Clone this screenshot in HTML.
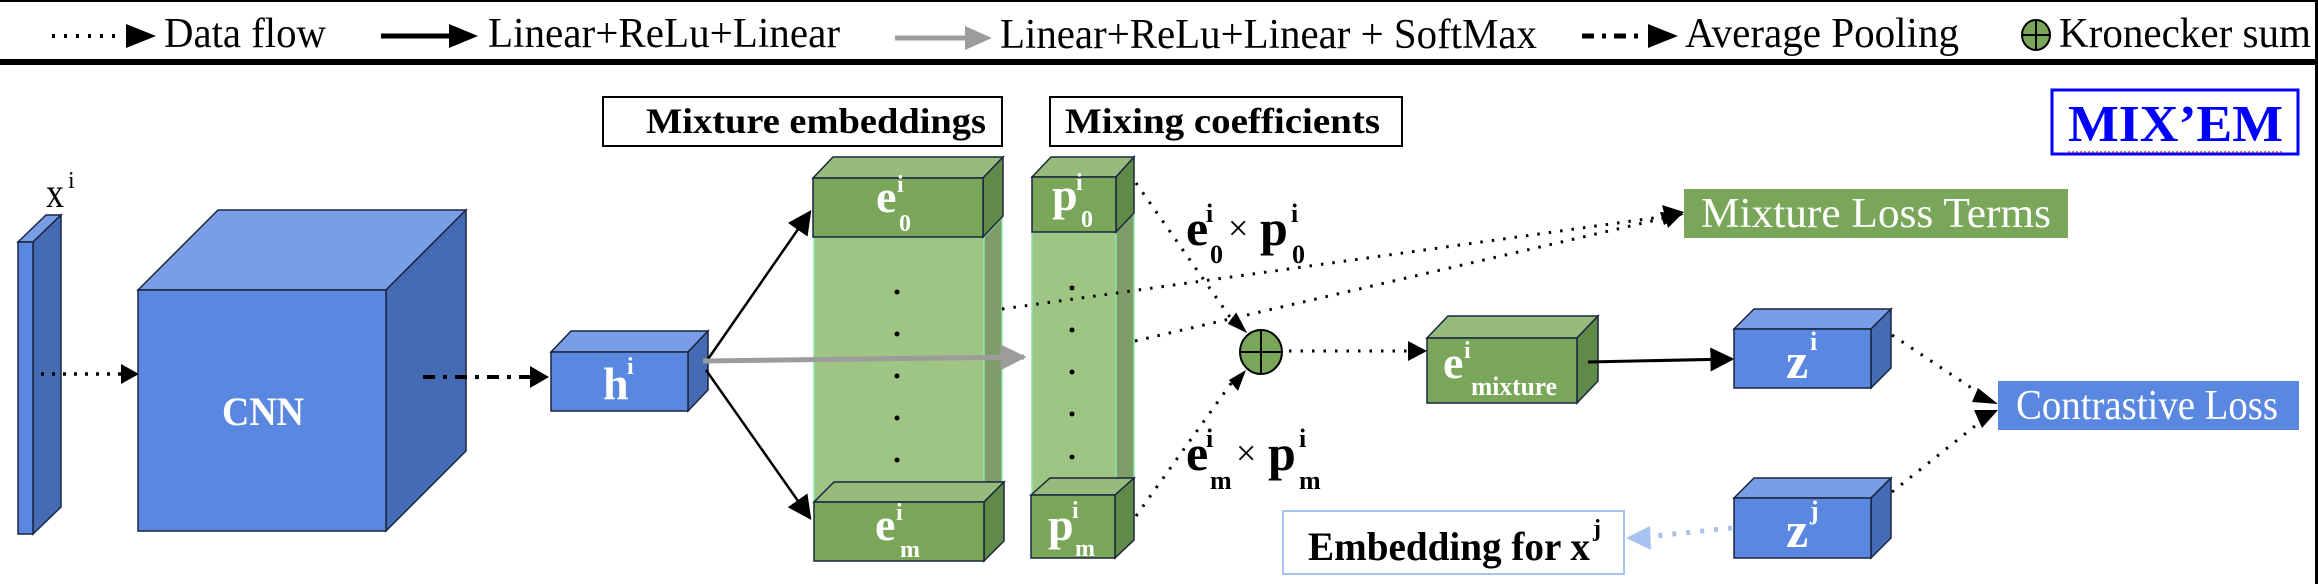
<!DOCTYPE html>
<html><head><meta charset="utf-8"><style>
html,body{margin:0;padding:0;background:#fff;}
svg{display:block;}
svg text{font-family:"Liberation Serif","DejaVu Serif",serif;}
</style></head><body>
<svg width="2318" height="584" viewBox="0 0 2318 584" xmlns="http://www.w3.org/2000/svg" font-family="Liberation Serif, DejaVu Serif, serif">
<defs>
<marker id="abL" viewBox="0 0 10 10" refX="9" refY="5" markerWidth="24" markerHeight="24" markerUnits="userSpaceOnUse" orient="auto"><path d="M0,0 L10,5 L0,10 z" fill="#000"/></marker>
<marker id="agL" viewBox="0 0 10 10" refX="9" refY="5" markerWidth="26" markerHeight="26" markerUnits="userSpaceOnUse" orient="auto"><path d="M0,0 L10,5 L0,10 z" fill="#9c9c9c"/></marker>
</defs>

<!-- frame -->
<rect x="0" y="0" width="2318" height="2" fill="#000"/>
<rect x="0" y="59" width="2318" height="6" fill="#000"/>
<rect x="2315" y="0" width="3" height="584" fill="#000"/>

<!-- legend -->
<line x1="52" y1="36" x2="118" y2="36" stroke="#000" stroke-width="4" stroke-dasharray="3,9"/>
<path d="M126,24 L156,36 L126,48 z" fill="#000"/>
<text x="164" y="47" font-size="42" textLength="162" lengthAdjust="spacingAndGlyphs">Data flow</text>
<line x1="381" y1="36" x2="452" y2="36" stroke="#000" stroke-width="5"/>
<path d="M449,24 L478,36 L449,48 z" fill="#000"/>
<text x="488" y="47" font-size="42" textLength="352" lengthAdjust="spacingAndGlyphs">Linear+ReLu+Linear</text>
<line x1="895" y1="38" x2="968" y2="38" stroke="#9c9c9c" stroke-width="5"/>
<path d="M965,26 L992,38 L965,50 z" fill="#9c9c9c"/>
<text x="1000" y="48" font-size="42" textLength="537" lengthAdjust="spacingAndGlyphs">Linear+ReLu+Linear + SoftMax</text>
<line x1="1582" y1="36" x2="1640" y2="36" stroke="#000" stroke-width="5" stroke-dasharray="12,8,4,8"/>
<path d="M1648,24 L1678,36 L1648,48 z" fill="#000"/>
<text x="1685" y="47" font-size="42" textLength="274" lengthAdjust="spacingAndGlyphs">Average Pooling</text>
<ellipse cx="2036" cy="35" rx="14" ry="15" fill="#7aa65a" stroke="#000" stroke-width="2"/>
<line x1="2022" y1="35" x2="2050" y2="35" stroke="#000" stroke-width="2"/>
<line x1="2036" y1="20" x2="2036" y2="50" stroke="#000" stroke-width="2"/>
<text x="2059" y="47" font-size="42" textLength="252" lengthAdjust="spacingAndGlyphs">Kronecker sum</text>

<!-- MIX'EM -->
<rect x="2052" y="90" width="246" height="64" fill="#fff" stroke="#0000ff" stroke-width="3"/>
<text x="2068" y="141" font-size="52" font-weight="bold" fill="#0000ff" textLength="215" lengthAdjust="spacingAndGlyphs">MIX’EM</text>
<line x1="2068" y1="152" x2="2282" y2="152" stroke="#e04040" stroke-width="1.5" stroke-dasharray="2,2"/>

<!-- header boxes -->
<rect x="603" y="97" width="399" height="49" fill="#fff" stroke="#000" stroke-width="2"/>
<text x="646" y="133" font-size="36" font-weight="bold" textLength="340" lengthAdjust="spacingAndGlyphs">Mixture embeddings</text>
<rect x="1050" y="97" width="352" height="49" fill="#fff" stroke="#000" stroke-width="2"/>
<text x="1065" y="133" font-size="36" font-weight="bold" textLength="315" lengthAdjust="spacingAndGlyphs">Mixing coefficients</text>

<!-- input slab -->
<g stroke="#1a2540" stroke-width="1.5">
<polygon points="18,242 46,215 61,215 33,242" fill="#7a9ee5"/>
<polygon points="33,242 61,215 61,507 33,534" fill="#456bb5"/>
<rect x="18" y="242" width="15" height="292" fill="#5a87e0"/>
</g>
<text x="46" y="207" font-size="42" textLength="18" lengthAdjust="spacingAndGlyphs">x</text>
<text x="68" y="188" font-size="24">i</text>
<line x1="41" y1="374" x2="122" y2="374" stroke="#000" stroke-width="3.5" stroke-dasharray="3,8"/>
<path d="M121,364 L139,374 L121,384 z" fill="#000"/>

<!-- CNN -->
<g stroke="#1a2540" stroke-width="1.5">
<polygon points="138,290 218,210 466,210 386,290" fill="#7a9ee5"/>
<polygon points="386,290 466,210 466,451 386,531" fill="#456bb5"/>
<rect x="138" y="290" width="248" height="241" fill="#5a87e0"/>
</g>
<text x="222" y="425" font-size="40" font-weight="bold" fill="#fff" textLength="82" lengthAdjust="spacingAndGlyphs">CNN</text>
<line x1="423" y1="377" x2="532" y2="377" stroke="#000" stroke-width="4" stroke-dasharray="12,8,4,8"/>
<path d="M530,366 L549,377 L530,388 z" fill="#000"/>

<!-- h -->
<g stroke="#1a2540" stroke-width="1.5">
<polygon points="551,352 571,331 708,331 688,352" fill="#7a9ee5"/>
<polygon points="688,352 708,331 708,390 688,411" fill="#456bb5"/>
<rect x="551" y="352" width="137" height="59" fill="#5a87e0"/>
</g>
<text x="603" y="399" font-size="46" font-weight="bold" fill="#fff">h</text>
<text x="627" y="374" font-size="24" font-weight="bold" fill="#fff">i</text>

<line x1="706" y1="362" x2="810" y2="212" stroke="#000" stroke-width="2.5" marker-end="url(#abL)"/>
<line x1="706" y1="370" x2="810" y2="518" stroke="#000" stroke-width="2.5" marker-end="url(#abL)"/>

<!-- e column -->
<g stroke="#1a2540" stroke-width="1.5">
<rect x="814" y="237" width="170" height="265" fill="#9fc585" stroke="#8de4a8"/>
<polygon points="984,237 1002,218 1002,484 984,502" fill="#7f9d68" stroke="#8de4a8"/>
<polygon points="813,178 833,157 1003,157 983,178" fill="#96bb7a"/>
<polygon points="983,178 1003,157 1003,216 983,237" fill="#5f8a47"/>
<rect x="813" y="178" width="170" height="59" fill="#7aa65a"/>
<polygon points="814,502 834,482 1004,482 984,502" fill="#96bb7a"/>
<polygon points="984,502 1004,482 1004,541 984,561" fill="#5f8a47"/>
<rect x="814" y="502" width="170" height="59" fill="#7aa65a"/>
</g>
<g fill="#000"><circle cx="897" cy="292" r="2.5"/><circle cx="897" cy="334" r="2.5"/><circle cx="897" cy="376" r="2.5"/><circle cx="897" cy="418" r="2.5"/><circle cx="897" cy="460" r="2.5"/></g>
<text x="876" y="212" font-size="46" font-weight="bold" fill="#fff">e</text>
<text x="897" y="192" font-size="24" font-weight="bold" fill="#fff">i</text>
<text x="899" y="231" font-size="24" font-weight="bold" fill="#fff">0</text>
<text x="875" y="540" font-size="46" font-weight="bold" fill="#fff">e</text>
<text x="896" y="520" font-size="24" font-weight="bold" fill="#fff">i</text>
<text x="900" y="557" font-size="24" font-weight="bold" fill="#fff">m</text>

<!-- p column -->
<g stroke="#1a2540" stroke-width="1.5">
<rect x="1032" y="232" width="84" height="263" fill="#9fc585" stroke="#8de4a8"/>
<polygon points="1116,232 1134,213 1134,477 1116,495" fill="#7f9d68" stroke="#8de4a8"/>
<polygon points="1032,177 1051,157 1134,157 1116,177" fill="#96bb7a"/>
<polygon points="1116,177 1134,157 1134,213 1116,232" fill="#5f8a47"/>
<rect x="1032" y="177" width="84" height="55" fill="#7aa65a"/>
<polygon points="1031,495 1050,478 1134,478 1115,495" fill="#96bb7a"/>
<polygon points="1115,495 1134,478 1134,540 1115,558" fill="#5f8a47"/>
<rect x="1031" y="495" width="84" height="63" fill="#7aa65a"/>
</g>
<g fill="#000"><circle cx="1072" cy="288" r="2.5"/><circle cx="1072" cy="330" r="2.5"/><circle cx="1072" cy="372" r="2.5"/><circle cx="1072" cy="414" r="2.5"/><circle cx="1072" cy="457" r="2.5"/></g>
<text x="1052" y="210" font-size="46" font-weight="bold" fill="#fff">p</text>
<text x="1076" y="190" font-size="24" font-weight="bold" fill="#fff">i</text>
<text x="1081" y="227" font-size="24" font-weight="bold" fill="#fff">0</text>
<text x="1048" y="540" font-size="46" font-weight="bold" fill="#fff">p</text>
<text x="1072" y="518" font-size="24" font-weight="bold" fill="#fff">i</text>
<text x="1075" y="556" font-size="24" font-weight="bold" fill="#fff">m</text>

<line x1="703" y1="361" x2="1024" y2="357" stroke="#9c9c9c" stroke-width="5" marker-end="url(#agL)"/>

<line x1="1002" y1="309" x2="1682" y2="214" stroke="#000" stroke-width="3" stroke-dasharray="2.5,9"/>
<line x1="1135" y1="341" x2="1682" y2="214" stroke="#000" stroke-width="3" stroke-dasharray="2.5,9"/>
<path d="M1662,205 L1684,212 L1668,228 z" fill="#000"/>
<path d="M1660,212 L1684,214 L1664,225 z" fill="#000"/>
<rect x="1684" y="189" width="384" height="49" fill="#7aa65a"/>
<text x="1701" y="227" font-size="42" fill="#fff" textLength="350" lengthAdjust="spacingAndGlyphs">Mixture Loss Terms</text>

<line x1="1136" y1="183" x2="1232" y2="320" stroke="#000" stroke-width="3" stroke-dasharray="2.5,9"/>
<path d="M1228,322 L1246,334 L1238,312 z" fill="#000" transform="rotate(-8 1240 325)"/>
<line x1="1136" y1="516" x2="1232" y2="382" stroke="#000" stroke-width="3" stroke-dasharray="2.5,9"/>
<path d="M1229,380 L1246,370 L1238,391 z" fill="#000"/>
<ellipse cx="1261" cy="352" rx="21" ry="22" fill="#7aa65a" stroke="#000" stroke-width="2"/>
<line x1="1240" y1="352" x2="1282" y2="352" stroke="#000" stroke-width="2"/>
<line x1="1261" y1="330" x2="1261" y2="374" stroke="#000" stroke-width="2"/>

<text x="1186" y="245" font-size="50" font-weight="bold">e</text>
<text x="1206" y="222" font-size="26" font-weight="bold">i</text>
<text x="1210" y="263" font-size="26" font-weight="bold">0</text>
<text x="1228" y="240" font-size="36">×</text>
<text x="1260" y="245" font-size="50" font-weight="bold">p</text>
<text x="1291" y="222" font-size="26" font-weight="bold">i</text>
<text x="1292" y="263" font-size="26" font-weight="bold">0</text>
<text x="1186" y="470" font-size="50" font-weight="bold">e</text>
<text x="1206" y="447" font-size="26" font-weight="bold">i</text>
<text x="1210" y="489" font-size="26" font-weight="bold">m</text>
<text x="1236" y="465" font-size="36">×</text>
<text x="1268" y="470" font-size="50" font-weight="bold">p</text>
<text x="1299" y="447" font-size="26" font-weight="bold">i</text>
<text x="1299" y="489" font-size="26" font-weight="bold">m</text>

<line x1="1289" y1="351" x2="1412" y2="351" stroke="#000" stroke-width="3" stroke-dasharray="2.5,9"/>
<path d="M1408,341 L1427,351 L1408,361 z" fill="#000"/>
<g stroke="#1a2540" stroke-width="1.5">
<polygon points="1427,338 1448,316 1598,316 1577,338" fill="#96bb7a"/>
<polygon points="1577,338 1598,316 1598,381 1577,403" fill="#5f8a47"/>
<rect x="1427" y="338" width="150" height="65" fill="#7aa65a"/>
</g>
<text x="1443" y="378" font-size="46" font-weight="bold" fill="#fff">e</text>
<text x="1464" y="358" font-size="24" font-weight="bold" fill="#fff">i</text>
<text x="1471" y="395" font-size="26" font-weight="bold" fill="#fff" textLength="86" lengthAdjust="spacingAndGlyphs">mixture</text>

<line x1="1588" y1="362" x2="1732" y2="359" stroke="#000" stroke-width="3" marker-end="url(#abL)"/>

<g stroke="#1a2540" stroke-width="1.5">
<polygon points="1734,329 1754,309 1891,309 1871,329" fill="#7a9ee5"/>
<polygon points="1871,329 1891,309 1891,368 1871,388" fill="#456bb5"/>
<rect x="1734" y="329" width="137" height="59" fill="#5a87e0"/>
</g>
<text x="1786" y="378" font-size="50" font-weight="bold" fill="#fff">z</text>
<text x="1810" y="350" font-size="26" font-weight="bold" fill="#fff">i</text>

<g stroke="#1a2540" stroke-width="1.5">
<polygon points="1734,498 1754,478 1891,478 1871,498" fill="#7a9ee5"/>
<polygon points="1871,498 1891,478 1891,538 1871,558" fill="#456bb5"/>
<rect x="1734" y="498" width="137" height="60" fill="#5a87e0"/>
</g>
<text x="1786" y="547" font-size="50" font-weight="bold" fill="#fff">z</text>
<text x="1810" y="519" font-size="26" font-weight="bold" fill="#fff">j</text>

<line x1="1892" y1="335" x2="1985" y2="397" stroke="#000" stroke-width="3" stroke-dasharray="2.5,9"/>
<path d="M1978,388 L1998,404 L1972,402 z" fill="#000"/>
<line x1="1892" y1="492" x2="1985" y2="418" stroke="#000" stroke-width="3" stroke-dasharray="2.5,9"/>
<path d="M1974,410 L1998,410 L1982,428 z" fill="#000"/>
<rect x="1998" y="381" width="301" height="49" fill="#5a87e0"/>
<text x="2016" y="419" font-size="42" fill="#fff" textLength="262" lengthAdjust="spacingAndGlyphs">Contrastive Loss</text>

<line x1="1732" y1="528" x2="1645" y2="537" stroke="#a9c3f0" stroke-width="5" stroke-dasharray="4,10"/>
<path d="M1650,526 L1626,538 L1651,550 z" fill="#a9c3f0"/>
<rect x="1283" y="511" width="341" height="63" fill="#fff" stroke="#a9c3f0" stroke-width="2"/>
<text x="1308" y="560" font-size="40" font-weight="bold" textLength="282" lengthAdjust="spacingAndGlyphs">Embedding for x</text>
<text x="1593" y="536" font-size="24" font-weight="bold">j</text>
</svg>
</body></html>
